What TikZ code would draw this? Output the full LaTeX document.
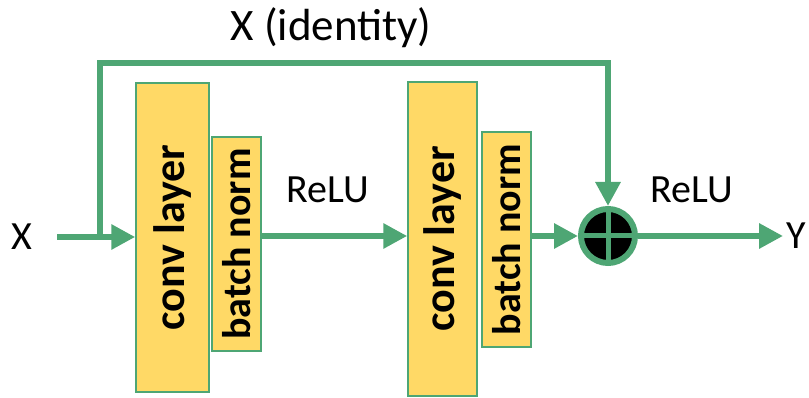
\documentclass[tikz,border=0pt]{standalone}
\usepackage{fontspec}
\setmainfont{Carlito}
\usepackage{tikz}
\usetikzlibrary{arrows.meta,positioning,calc}
\definecolor{resgreen}{HTML}{4EA674}
\definecolor{boxyellow}{HTML}{FFD966}
\tikzset{
  layerbox/.style={rectangle, draw=resgreen, line width=1.5pt, fill=boxyellow,
                   align=center, inner sep=0pt, font=\fontsize{#1}{48}\selectfont\bfseries},
  lbl/.style={font=\fontsize{#1}{50}\selectfont, inner sep=3pt},
  lbl/.default=40,
  arr/.style={-{Triangle[length=24pt,width=24pt]}, line width=6pt, draw=resgreen},
}

\begin{document}
\begin{tikzpicture}[x=1pt, y=1pt]
\useasboundingbox (0,0) rectangle (809,398);
\node[lbl] (xin) at (22,161) {X};
\node[lbl] (yout) at (796,162) {Y};
\node[layerbox=44, minimum width=73pt, minimum height=309pt] (conv1) at (172.5,160.5) {\rotatebox{90}{conv layer}};
\node[layerbox=40, minimum width=49pt, minimum height=214pt] (bn1) at (236.5,154) {\rotatebox{90}{batch norm}};
\node[layerbox=44, minimum width=69pt, minimum height=314pt] (conv2) at (442.5,159) {\rotatebox{90}{conv layer}};
\node[layerbox=40, minimum width=49pt, minimum height=215pt] (bn2) at (506.5,158.5) {\rotatebox{90}{batch norm}};
\node[circle, fill=black, draw=resgreen, line width=6pt, minimum size=54pt, inner sep=0pt] (sum) at (608,162) {};
\draw[resgreen, line width=5pt] (sum.north) -- (sum.south) (sum.west) -- (sum.east);
\node[lbl] (relu1) at (328,208) {ReLU};
\node[lbl] (relu2) at (692,208) {ReLU};
\node[lbl=45] (ident) at (331,370) {X (identity)};
% main path
\coordinate (xstart) at (57,161);
\coordinate (split) at (100,161);
\coordinate (skiptop) at (100,335);
\draw[arr] (xstart) -- (conv1.west |- xstart);
\draw[arr] (bn1.east |- sum) -- (conv2.west |- sum);
\draw[arr] (bn2.east |- sum) -- (sum.west);
\draw[arr] (sum.east) -- (yout);
% identity shortcut
\draw[arr] (split) -- (skiptop) -| (sum.north);
\end{tikzpicture}
\end{document}
